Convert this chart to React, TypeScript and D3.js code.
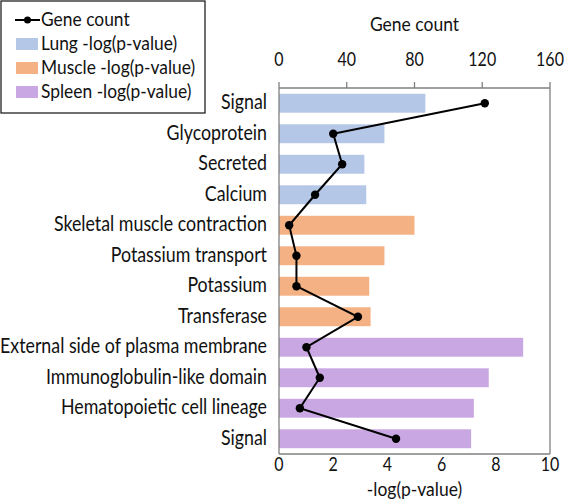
import React from "react";
import * as d3 from "d3";

const categories = [
  "Signal",
  "Glycoprotein",
  "Secreted",
  "Calcium",
  "Skeletal muscle contraction",
  "Potassium transport",
  "Potassium",
  "Transferase",
  "External side of plasma membrane",
  "Immunoglobulin-like domain",
  "Hematopoietic cell lineage",
  "Signal",
];
const tissues = ["Lung", "Lung", "Lung", "Lung", "Muscle", "Muscle", "Muscle", "Muscle", "Spleen", "Spleen", "Spleen", "Spleen"];
const logP = [5.4, 3.89, 3.15, 3.22, 5.0, 3.89, 3.33, 3.38, 9.01, 7.74, 7.19, 7.09];
const geneCount = [121.5, 32, 37.3, 21.3, 6, 10.3, 10.3, 46.6, 16.2, 24.1, 12.3, 69.1];
const bottomTicks = [0, 2, 4, 6, 8, 10];
const topTicks = [0, 40, 80, 120, 160];
const legendTissues = ["Lung", "Muscle", "Spleen"];

const colors: Record<string, string> = {
  Lung: "#b4c7e7",
  Muscle: "#f4b183",
  Spleen: "#c9a7e2",
};

const FONT = "Lato, 'Open Sans', sans-serif";

function T(props: any) {
  const { x, y, children, sy = 1.15, ...rest } = props;
  return (
    <text transform={`translate(${x},${y}) scale(1,${sy})`} fill="#111" {...rest}>
      {children}
    </text>
  );
}

export default function App() {
  const W = 565, H = 503;
  const left = 279, right = 550, top = 88, bottom = 454;
  const xP = d3.scaleLinear().domain([0, 10]).range([left, right]);
  const xG = d3.scaleLinear().domain([0, 160]).range([left, right]);
  const y = d3.scaleBand<number>().domain(d3.range(categories.length)).range([top, bottom]).paddingInner(0.38).paddingOuter(0.19);
  const yc = (i: number) => (y(i) as number) + y.bandwidth() / 2;
  const line = d3.line<number>().x((d) => xG(d)).y((_, i) => yc(i));

  return (
    <svg width={W} height={H} style={{ position: "absolute", left: 0, top: 0, fontFamily: FONT }}>
      <rect x={0} y={0} width={W} height={H} fill="#fff" />
      {logP.map((v, i) => (
        <rect key={i} x={xP(0)} y={y(i)} width={xP(v) - xP(0)} height={y.bandwidth()} fill={colors[tissues[i]]} />
      ))}
      <line x1={left} x2={left} y1={top} y2={bottom} stroke="#808080" strokeWidth={1.3} />
      <line x1={left} x2={right} y1={bottom} y2={bottom} stroke="#808080" strokeWidth={1.3} />
      <line x1={right} x2={right} y1={top} y2={bottom} stroke="#808080" strokeWidth={1.3} />
      <line x1={left} x2={right} y1={top} y2={top} stroke="#808080" strokeWidth={1.3} />
      {topTicks.map((t) => (
        <g key={t}>
          <line x1={xG(t)} x2={xG(t)} y1={top} y2={top - 6} stroke="#808080" strokeWidth={1.3} />
          <T x={xG(t)} y={66} textAnchor="middle" fontSize={16}>{t}</T>
        </g>
      ))}
      <T x={(left + right) / 2} y={31} textAnchor="middle" fontSize={17.5}>Gene count</T>
      {bottomTicks.map((t) => (
        <T key={t} x={xP(t)} y={471} textAnchor="middle" fontSize={16}>{t}</T>
      ))}
      <T x={(left + right) / 2} y={496} textAnchor="middle" fontSize={17.5}>-log(p-value)</T>
      {categories.map((c, i) => (
        <T key={i} x={267} y={yc(i) + 6} textAnchor="end" fontSize={17.8}>{c}</T>
      ))}
      <path d={line(geneCount) || ""} fill="none" stroke="#000" strokeWidth={2} />
      {geneCount.map((g, i) => (
        <circle key={i} cx={xG(g)} cy={yc(i)} r={4.2} fill="#000" />
      ))}
      <rect x={1} y={1} width={204} height={112} fill="#fff" stroke="#222" strokeWidth={1.3} />
      <line x1={15} x2={40} y1={20} y2={20} stroke="#000" strokeWidth={2} />
      <circle cx={27.5} cy={20} r={3.5} fill="#000" />
      <T x={41} y={26} fontSize={17.4}>Gene count</T>
      {legendTissues.map((t, k) => (
        <g key={t}>
          <rect x={16} y={38 + 24 * k} width={22} height={12} fill={colors[t]} />
          <T x={41} y={50 + 24 * k} fontSize={17.4}>{t} -log(p-value)</T>
        </g>
      ))}
    </svg>
  );
}
